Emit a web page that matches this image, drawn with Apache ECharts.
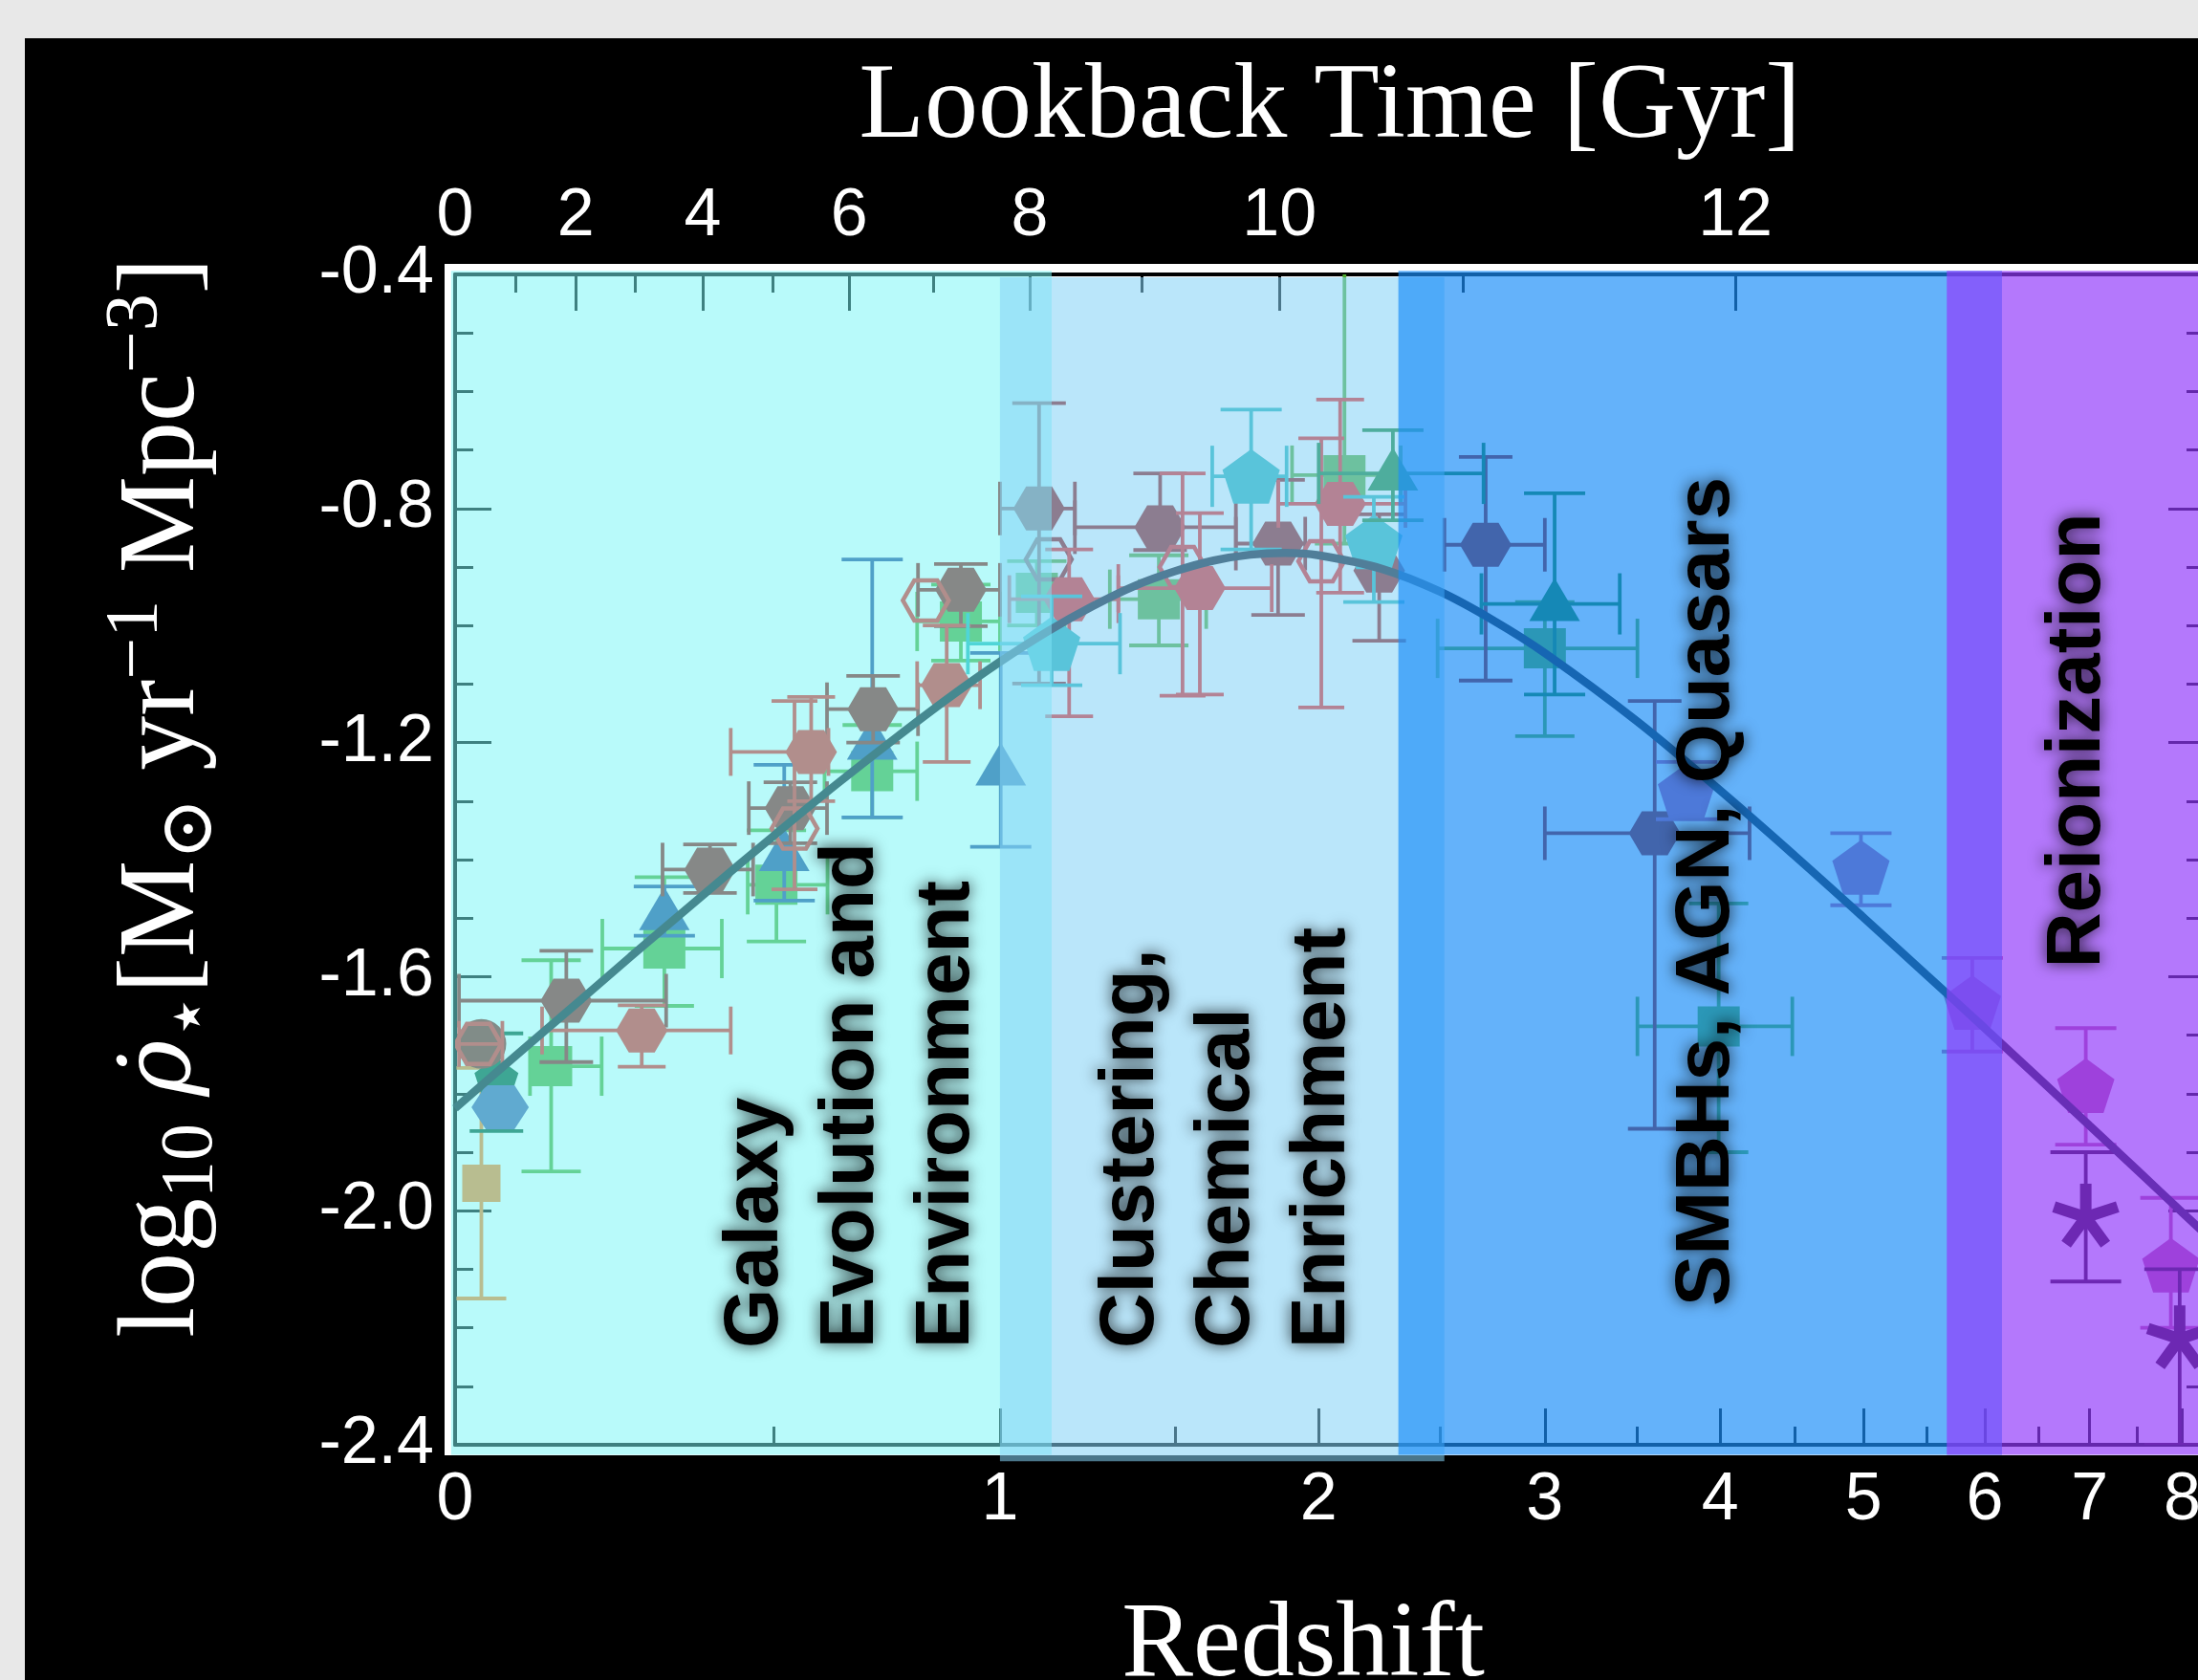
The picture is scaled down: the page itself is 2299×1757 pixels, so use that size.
<!DOCTYPE html>
<html><head><meta charset="utf-8">
<script src="https://cdn.jsdelivr.net/npm/echarts@6/dist/echarts.min.js"></script>
<style>
html,body{margin:0;padding:0;background:#e8e8e8;width:2299px;height:1757px;overflow:hidden;}
#chart{position:absolute;left:26px;top:40px;width:2273px;height:1717px;background:#000;}
</style></head><body><div id="chart"></div>
<script>
// ---------------- data (redshift z, log10 SFRD) ----------------
const redshiftTicks = [0, 1, 2, 3, 4, 5, 6, 7, 8];
const redshiftMinorTicks = [0.5, 1.5, 2.5, 3.5, 4.5, 5.5, 6.5, 7.5];
const lookbackLabels = [0, 2, 4, 6, 8, 10, 12];
const lookbackTickZ = [0, 0.166, 0.370, 0.651, 1.077, 1.854, 4.097];
const lookbackMinorZ = [0.080, 0.258, 0.498, 0.837, 1.395, 2.605];
const yTickMin = -2.4, yTickMax = -0.4, yTickStep = 0.4;
const zAxisMax = 8.26;

const curveZ = [0, 0.05, 0.1, 0.175, 0.25, 0.375, 0.5, 0.625, 0.75, 0.875, 1, 1.125, 1.25, 1.375, 1.5, 1.625, 1.75, 1.875, 2, 2.25, 2.5, 2.75, 3, 3.5, 4, 4.5, 5, 5.5, 6, 6.5, 7, 7.5, 8, 8.5];
const curveY = [-1.825, -1.768, -1.714, -1.638, -1.566, -1.457, -1.359, -1.271, -1.193, -1.123, -1.062, -1.010, -0.967, -0.932, -0.907, -0.889, -0.879, -0.876, -0.880, -0.903, -0.942, -0.992, -1.047, -1.164, -1.282, -1.394, -1.499, -1.597, -1.688, -1.774, -1.855, -1.931, -2.003, -2.071];

const orangeSqZ = [0.034], orangeSqY = [-1.953], orangeSqYLo = [-2.150], orangeSqYHi = [-1.756];

const greenSqZ   = [0.130, 0.305, 0.505, 0.700, 0.903, 1.096, 1.448, 2.100, 3.000, 3.990];
const greenSqY   = [-1.753, -1.552, -1.443, -1.249, -0.993, -0.944, -0.955, -0.743, -1.039, -1.685];
const greenSqYLo = [-1.933, -1.650, -1.540, -1.328, -1.060, -1.000, -1.034, -0.860, -1.189, -1.900];
const greenSqYHi = [-1.572, -1.430, -1.350, -1.170, -0.930, -0.890, -0.880, -0.350, -0.960, -1.475];
const greenSqZLo = [0.100, 0.206, 0.451, 0.600, 0.800, null, 1.300, 1.900, 2.490, 3.500];
const greenSqZHi = [0.205, 0.404, 0.606, 0.800, 1.000, null, 1.600, 2.330, 3.500, 4.480];

const blueTriZ   = [0.305, 0.520, 0.700, 1.002];
const blueTriY   = [-1.491, -1.390, -1.200, -1.244];
const blueTriYLo = [-1.530, -1.470, -1.328, -1.378];
const blueTriYHi = [-1.446, -1.238, -0.887, -1.047];

const dkTealPentZ = [0.054], dkTealPentY = [-1.773], dkTealPentYLo = [-1.864], dkTealPentYHi = [-1.697];
const blueHexZ = [0.059], blueHexY = [-1.823];

const darkCircZ = [0.034], darkCircY = [-1.715];

const darkHexZ   = [0.152, 0.383, 0.532, 0.702, 0.903, 1.102, 1.452, 1.849, 2.240, 2.710, 3.600];
const darkHexY   = [-1.641, -1.417, -1.312, -1.143, -0.939, -0.800, -0.832, -0.860, -0.906, -0.862, -1.355];
const darkHexYLo = [-1.746, -1.457, -1.372, -1.200, -1.001, -1.099, -0.871, -0.982, -1.026, -1.094, -1.860];
const darkHexYHi = [-1.556, -1.374, -1.268, -1.086, -0.895, -0.620, -0.740, -0.751, -0.810, -0.712, -1.129];
const darkHexZLo = [0.005, 0.302, 0.453, 0.605, 0.802, 1.000, 1.200, 1.700, null, 2.520, 3.000];
const darkHexZHi = [0.308, 0.461, 0.605, 0.802, 1.000, 1.200, 1.700, 1.949, null, 3.000, 4.190];

const darkOpenZ = [1.128], darkOpenY = [-0.887];

const redOpenZ   = [0.030, 0.540, 0.820, 1.523, 2.010];
const redOpenY   = [-1.715, -1.347, -0.957, -0.900, -0.890];
const redOpenYLo = [null, -1.451, null, -1.120, -1.140];
const redOpenYHi = [null, -1.129, null, -0.740, -0.680];
const redOpenZLo = [0.005, null, null, null, null];
const redOpenZHi = [0.062, null, null, null, null];

const redHexZ   = [0.268, 0.573, 0.869, 1.184, 1.579, 2.083];
const redHexY   = [-1.692, -1.216, -1.102, -0.955, -0.936, -0.792];
const redHexYLo = [-1.754, -1.300, -1.233, -1.155, -1.118, -0.944];
const redHexYHi = [-1.649, -1.122, -1.000, -0.870, -0.808, -0.614];
const redHexZLo = [0.117, 0.420, 0.800, 1.024, 1.325, 1.850];
const redHexZHi = [0.420, 0.608, 0.950, 1.325, 1.826, 2.350];

const cyanPentZ   = [1.136, 1.753, 2.218];
const cyanPentY   = [-1.031, -0.745, -0.857];
const cyanPentYLo = [-1.102, -0.870, -0.960];
const cyanPentYHi = [-0.950, -0.631, -0.780];
const cyanPentZLo = [0.920, 1.620, null];
const cyanPentZHi = [1.330, 1.880, null];

const dkGreenTriZ   = [2.297, 3.050];
const dkGreenTriY   = [-0.740, -0.963];
const dkGreenTriYLo = [-0.820, -1.118];
const dkGreenTriYHi = [-0.666, -0.774];
const dkGreenTriZLo = [2.000, 2.690];
const dkGreenTriZHi = [2.700, 3.400];

const magPentZ   = [3.79, 4.98, 5.89, 6.96, 7.87];
const magPentY   = [-1.282, -1.413, -1.644, -1.786, -2.093];
const magPentYLo = [-1.331, -1.478, -1.728, -1.887, -2.200];
const magPentYHi = [-1.233, -1.355, -1.568, -1.688, -1.978];

const starZ   = [6.96, 7.97];
const starY   = [-2.011, -2.219];
const starYLo = [-2.121, -2.400];
const starYHi = [-1.900, -2.100];

const bandStartZ = [-0.005, 1.0, 2.32, 5.67];
const bandEndZ   = [1.136, 2.52, 6.155, 9.5];
const bandTopY   = [-0.394, -0.405, -0.394, -0.394];
const bandBotY   = [-2.417, -2.428, -2.417, -2.417];

const bandLabels = ['Galaxy\nEvolution and\nEnvironment', 'Clustering,\nChemical\nEnrichment', 'SMBHs, AGN, Quasars', 'Reionization'];
const bandLabelZ = [0.656, 1.673, 3.92, 6.89];
const bandLabelY = [-2.235, -2.235, -2.163, -1.585];

// ---------------- styles ----------------
const bandColors = ['rgba(119,246,246,0.52)', 'rgba(132,211,246,0.56)', 'rgba(27,142,248,0.68)', 'rgba(146,58,251,0.686)'];
const L = z => Math.log10(1 + z);
const fmt = v => Math.round(v * 1e6) / 1e6;

function markerShape(shape, c, w, h, color, open) {
  const [cx, cy] = c;
  let pts;
  if (shape === 'hex') {
    pts = [[-w/2, 0], [-w/4, -h/2], [w/4, -h/2], [w/2, 0], [w/4, h/2], [-w/4, h/2]];
  } else if (shape === 'pent') {
    const R = w / 1.902;
    pts = [];
    for (let k = 0; k < 5; k++) {
      const a = (-90 + 72 * k) * Math.PI / 180;
      pts.push([R * Math.cos(a), R * Math.sin(a) + R * 0.1]);
    }
  } else if (shape === 'tri') {
    pts = [[0, -h * 0.6], [w/2, h * 0.4], [-w/2, h * 0.4]];
  } else if (shape === 'sq') {
    pts = [[-w/2, -h/2], [w/2, -h/2], [w/2, h/2], [-w/2, h/2]];
  }
  if (shape === 'circ') {
    return {type: 'circle', shape: {cx, cy, r: w/2}, style: {fill: color}};
  }
  if (shape === 'star') {
    const arms = [];
    for (let k = 0; k < 5; k++) {
      const a = (-90 + 72 * k) * Math.PI / 180;
      arms.push({type: 'line', shape: {x1: cx, y1: cy, x2: cx + w/2 * Math.cos(a), y2: cy + w/2 * Math.sin(a)},
        style: {stroke: color, lineWidth: 12}});
    }
    return {type: 'group', children: arms};
  }
  const points = pts.map(p => [cx + p[0], cy + p[1]]);
  if (open) return {type: 'polygon', shape: {points}, style: {fill: null, stroke: color, lineWidth: 4.5}};
  return {type: 'polygon', shape: {points}, style: {fill: color}};
}

function groupSeries(g) {
  return {
    type: 'custom', xAxisIndex: 0, yAxisIndex: 0, z: 2, silent: true, clip: true,
    data: g.z.map((z, i) => [L(z), g.y[i]]),
    encode: {x: 0, y: 1},
    renderItem: function (params, api) {
      const i = params.dataIndex;
      const x = api.value(0), y = api.value(1);
      const c = api.coord([x, y]);
      const kids = [];
      const st = {stroke: g.color, lineWidth: 3.8};
      const cap = g.cap;
      const ln = (x1, y1, x2, y2) => ({type: 'line', shape: {x1, y1, x2, y2}, style: st});
      if (g.yLo && g.yLo[i] != null) {
        const a = api.coord([x, g.yLo[i]]), b = api.coord([x, g.yHi[i]]);
        kids.push(ln(c[0], a[1], c[0], b[1]));
        kids.push(ln(c[0] - cap, a[1], c[0] + cap, a[1]));
        kids.push(ln(c[0] - cap, b[1], c[0] + cap, b[1]));
      }
      if (g.zLo && g.zLo[i] != null) {
        const a = api.coord([L(g.zLo[i]), y]), b = api.coord([L(g.zHi[i]), y]);
        kids.push(ln(a[0], c[1], b[0], c[1]));
        kids.push(ln(a[0], c[1] - cap, a[0], c[1] + cap));
        kids.push(ln(b[0], c[1] - cap, b[0], c[1] + cap));
      }
      kids.push(markerShape(g.shape, c, g.w, g.h, g.color, g.open));
      return {type: 'group', children: kids};
    }
  };
}

const groups = [
  {z: orangeSqZ, y: orangeSqY, yLo: orangeSqYLo, yHi: orangeSqYHi, color: '#ff8123', shape: 'sq', w: 40, h: 39, cap: 26},
  {z: greenSqZ, y: greenSqY, yLo: greenSqYLo, yHi: greenSqYHi, zLo: greenSqZLo, zHi: greenSqZHi, color: '#50ac30', shape: 'sq', w: 44, h: 42, cap: 31},
  {z: blueTriZ, y: blueTriY, yLo: blueTriYLo, yHi: blueTriYHi, color: '#254396', shape: 'tri', w: 53, h: 45, cap: 32},
  {z: dkTealPentZ, y: dkTealPentY, yLo: dkTealPentYLo, yHi: dkTealPentYHi, color: '#00502a', shape: 'pent', w: 46, h: 44, cap: 28},
  {z: blueHexZ, y: blueHexY, color: '#4758a7', shape: 'hex', w: 60, h: 46, cap: 30},
  {z: darkCircZ, y: darkCircY, color: '#8c1a12', shape: 'circ', w: 52, h: 52, cap: 28},
  {z: darkHexZ, y: darkHexY, yLo: darkHexYLo, yHi: darkHexYHi, zLo: darkHexZLo, zHi: darkHexZHi, color: '#96120f', shape: 'hex', w: 54, h: 46, cap: 28},
  {z: darkOpenZ, y: darkOpenY, color: '#96120f', shape: 'hex', w: 48, h: 42, open: true, cap: 26},
  {z: redOpenZ, y: redOpenY, yLo: redOpenYLo, yHi: redOpenYHi, zLo: redOpenZLo, zHi: redOpenZHi, color: '#f01e19', shape: 'hex', w: 48, h: 42, open: true, cap: 24},
  {z: redHexZ, y: redHexY, yLo: redHexYLo, yHi: redHexYHi, zLo: redHexZLo, zHi: redHexZHi, color: '#f01e19', shape: 'hex', w: 54, h: 46, cap: 25},
  {z: cyanPentZ, y: cyanPentY, yLo: cyanPentYLo, yHi: cyanPentYHi, zLo: cyanPentZLo, zHi: cyanPentZHi, color: '#24b1b6', shape: 'pent', w: 60, h: 57, cap: 32},
  {z: dkGreenTriZ, y: dkGreenTriY, yLo: dkGreenTriYLo, yHi: dkGreenTriYHi, zLo: dkGreenTriZLo, zHi: dkGreenTriZHi, color: '#0a7d2d', shape: 'tri', w: 53, h: 45, cap: 32},
  {z: magPentZ, y: magPentY, yLo: magPentYLo, yHi: magPentYHi, color: '#b9509a', shape: 'pent', w: 60, h: 57, cap: 32},
  {z: starZ, y: starY, yLo: starYLo, yHi: starYHi, color: '#1e0019', shape: 'star', w: 70, h: 68, cap: 37}
];

const whiteTxt = {color: '#fff', fontFamily: 'Liberation Sans, Arial, sans-serif', fontSize: 70};
const serifFam = 'Liberation Serif, DejaVu Serif, serif';
const serifName = {color: '#fff', fontFamily: serifFam, fontSize: 112};
const tickLine = {color: '#000', width: 3};
const gridRect = {left: 450, top: 247, width: 1830, height: 1224, outerBoundsMode: 'none', containLabel: false};

const zTickVals = redshiftTicks.map(L);
const lbTickVals = lookbackTickZ.map(L);
const lbLabelMap = {};
lbTickVals.forEach((v, i) => { lbLabelMap[fmt(v)] = String(lookbackLabels[i]); });
const zLabelMap = {};
zTickVals.forEach((v, i) => { zLabelMap[fmt(v)] = String(redshiftTicks[i]); });

const yName = '{m|log}{s|10}{m| }{i|\u03C1\u0307}{s|\u22C6}{m|[M}{s|\u2299}{m| yr}{p|\u22121}{m| Mpc}{p|\u22123}{m|]}';

const option = {
  animation: false,
  backgroundColor: '#000',
  grid: [
    Object.assign({show: true, backgroundColor: '#fff', borderColor: '#fff', borderWidth: 22}, gridRect),
    Object.assign({show: false}, gridRect)
  ],
  xAxis: [
    {gridIndex: 0, type: 'value', position: 'bottom', min: 0, max: L(zAxisMax),
     axisLine: {show: true, onZero: false, lineStyle: {color: '#000', width: 4}},
     axisTick: {show: true, inside: true, length: 38, lineStyle: tickLine, customValues: zTickVals},
     axisLabel: Object.assign({customValues: zTickVals, margin: 24, formatter: v => zLabelMap[fmt(v)] || ''}, whiteTxt),
     splitLine: {show: false},
     name: 'Redshift', nameLocation: 'middle', nameGap: 156,
     nameTextStyle: Object.assign({padding: [0, 56, 0, 0]}, serifName)},
    {gridIndex: 0, type: 'value', position: 'top', min: 0, max: L(zAxisMax),
     axisLine: {show: true, onZero: false, lineStyle: {color: '#000', width: 4}},
     axisTick: {show: true, inside: true, length: 38, lineStyle: tickLine, customValues: lbTickVals},
     axisLabel: Object.assign({customValues: lbTickVals, margin: 25, formatter: v => lbLabelMap[fmt(v)] || ''}, whiteTxt),
     splitLine: {show: false},
     name: 'Lookback Time [Gyr]', nameLocation: 'middle', nameGap: 117, nameTextStyle: serifName},
    {gridIndex: 1, type: 'value', position: 'bottom', min: 0, max: L(zAxisMax),
     axisLine: {show: false}, axisLabel: {show: false}, splitLine: {show: false},
     axisTick: {show: true, inside: true, length: 19, lineStyle: tickLine, customValues: redshiftMinorTicks.map(L)}},
    {gridIndex: 1, type: 'value', position: 'top', min: 0, max: L(zAxisMax),
     axisLine: {show: false}, axisLabel: {show: false}, splitLine: {show: false},
     axisTick: {show: true, inside: true, length: 19, lineStyle: tickLine, customValues: lookbackMinorZ.map(L)}}
  ],
  yAxis: [
    {gridIndex: 0, type: 'value', position: 'left', min: yTickMin, max: yTickMax, interval: yTickStep,
     axisLine: {show: true, onZero: false, lineStyle: {color: '#000', width: 4}},
     axisTick: {show: true, inside: true, length: 38, lineStyle: tickLine},
     minorTick: {show: true, splitNumber: 4, length: 19, lineStyle: tickLine},
     axisLabel: Object.assign({margin: 22, formatter: v => v.toFixed(1)}, whiteTxt),
     splitLine: {show: false}, minorSplitLine: {show: false},
     name: yName, nameLocation: 'middle', nameRotate: 90, nameGap: 236,
     nameTextStyle: {color: '#fff', fontFamily: serifFam, fontSize: 114, padding: [0, 0, 0, 130],
       rich: {
         m: {color: '#fff', fontFamily: serifFam, fontSize: 114, lineHeight: 136},
         i: {color: '#fff', fontFamily: 'DejaVu Serif, serif', fontStyle: 'italic', fontSize: 100, lineHeight: 136},
         s: {color: '#fff', fontFamily: 'Liberation Serif, DejaVu Serif, DejaVu Sans, serif', fontSize: 78, lineHeight: 62, verticalAlign: 'bottom'},
         p: {color: '#fff', fontFamily: serifFam, fontSize: 78, lineHeight: 40, verticalAlign: 'top'}
       }}},
    {gridIndex: 0, type: 'value', position: 'right', min: yTickMin, max: yTickMax, interval: yTickStep,
     axisLine: {show: true, onZero: false, lineStyle: {color: '#000', width: 4}},
     axisTick: {show: true, inside: true, length: 38, lineStyle: tickLine},
     minorTick: {show: true, splitNumber: 4, length: 19, lineStyle: tickLine},
     axisLabel: {show: false}, splitLine: {show: false}},
    {gridIndex: 1, type: 'value', show: false, min: yTickMin, max: yTickMax}
  ],
  series: [
    {type: 'line', xAxisIndex: 0, yAxisIndex: 0, z: 3, silent: true, smooth: 0.35, symbol: 'none',
     data: curveZ.map((z, i) => [L(z), curveY[i]]),
     lineStyle: {color: '#0f1423', width: 8.5}}
  ].concat(groups.map(groupSeries)).concat([
    {type: 'custom', xAxisIndex: 0, yAxisIndex: 0, z: 5, silent: true, clip: false,
     data: bandStartZ.map((s, i) => [L(s), L(bandEndZ[i]), bandTopY[i], bandBotY[i]]),
     encode: {x: [0, 1], y: [2, 3]},
     renderItem: function (params, api) {
       const p1 = api.coord([api.value(0), api.value(2)]);
       const p2 = api.coord([api.value(1), api.value(3)]);
       return {type: 'rect', shape: {x: p1[0], y: p1[1], width: p2[0] - p1[0], height: p2[1] - p1[1]},
         style: {fill: bandColors[params.dataIndex]}};
     }},
    {type: 'scatter', xAxisIndex: 0, yAxisIndex: 0, zlevel: 1, z: 10, silent: true, symbolSize: 0,
     data: bandLabelZ.map((z, i) => ({value: [L(z), bandLabelY[i]], name: bandLabels[i]})),
     label: {show: true, position: [0, 0], formatter: p => p.name, rotate: 90, align: 'left', verticalAlign: 'middle',
       color: '#000', opacity: 1, fontFamily: 'Liberation Sans, Arial, sans-serif', fontWeight: 'bold', fontSize: 80, lineHeight: 100,
       textShadowColor: 'rgba(0,0,0,0.8)', textShadowBlur: 16}}
  ])
};

const chart = echarts.init(document.getElementById('chart'), null, {renderer: 'canvas'});
chart.setOption(option);
</script></body></html>
